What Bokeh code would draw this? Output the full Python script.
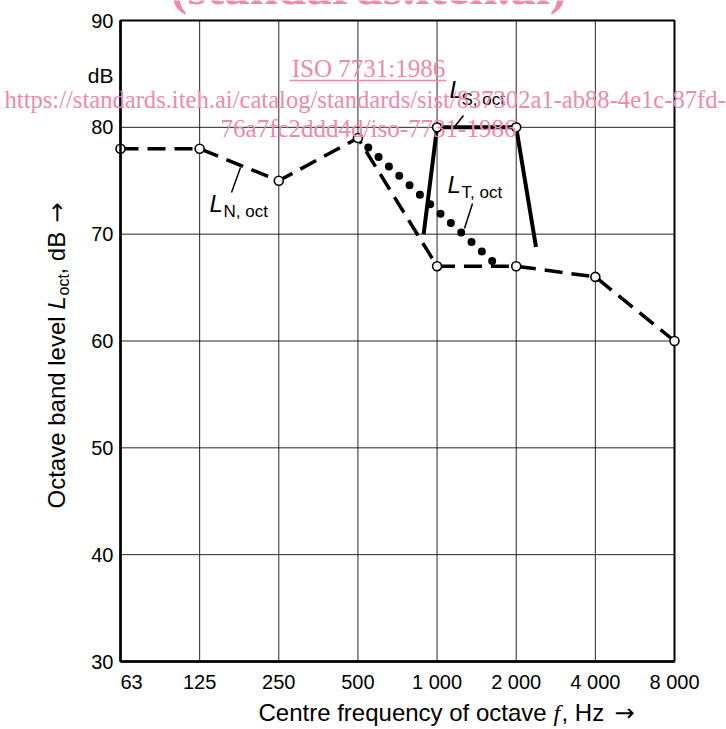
import math
from bokeh.plotting import figure
from bokeh.models import Range1d, FixedTicker, Label
from bokeh.embed import file_html
from bokeh.resources import INLINE

# ---------------- data ----------------
bands = ["63", "125", "250", "500", "1 000", "2 000", "4 000", "8 000"]
band_pos = [0, 1, 2, 3, 4, 5, 6, 7]
ln_oct = [78, 78, 75, 79, 67, 67, 66, 60]          # L_N,oct (dashed)
ls_pos = [3.83, 4, 5, 5.25]                          # L_S,oct (solid)
ls_oct = [70, 80, 80, 68.8]
ls_marker_pos = [4, 5]
ls_marker_oct = [80, 80]
lt_pos = [3, 4.74]                                   # L_T,oct (dotted)
lt_oct = [79, 67.2]
y_ticks = [30, 40, 50, 60, 70, 80, 90]

# ---------------- layout (page pixels of the chart box) ----------------
W, H = 725, 728
FL, FT, FR, FB = 120, 20, 674, 661
def X(px):
    return band_pos[0] + (px - FL) / (FR - FL) * (band_pos[-1] - band_pos[0])
def Y(py):
    return y_ticks[-1] - (py - FT) / (FB - FT) * (y_ticks[-1] - y_ticks[0])

SANS = "Liberation Sans"
SERIF = "Liberation Serif"
ARROWF = "DejaVu Sans"
PINK = "#ee8aa8"
K = 0.37   # baseline correction (fraction of font size)

p = figure(frame_width=W, frame_height=H, min_border=0, title=None,
           x_range=Range1d(X(0), X(W)), y_range=Range1d(Y(H), Y(0)),
           output_backend="svg", toolbar_location=None,
           background_fill_color="white", border_fill_color="white")
p.outline_line_color = None
p.grid.visible = False

# axes drawn at the chart box edges
xa, ya = p.xaxis[0], p.yaxis[0]
xa.fixed_location = y_ticks[0]
ya.fixed_location = band_pos[0]
xa.bounds = (band_pos[0], band_pos[-1])
ya.bounds = (y_ticks[0], y_ticks[-1])
xa.ticker = FixedTicker(ticks=band_pos)
ya.ticker = FixedTicker(ticks=y_ticks)
overrides = {pos: lab for pos, lab in zip(band_pos, bands)}
overrides[0] = "\u00a0" * 4 + bands[0]
xa.major_label_overrides = overrides
for ax in (xa, ya):
    ax.major_tick_line_color = None
    ax.minor_tick_line_color = None
    ax.major_tick_out = 0
    ax.major_tick_in = 0
    ax.axis_line_color = "black"
    ax.axis_line_width = 2.5
    ax.major_label_text_font = SANS
    ax.major_label_text_font_size = "20px"
    ax.major_label_text_color = "black"
xa.major_label_standoff = 9
ya.major_label_standoff = 7

# grid lines of the chart box (from the tick arrays)
n_x, n_y = len(band_pos), len(y_ticks)
p.segment(x0=band_pos, y0=[y_ticks[0]] * n_x, x1=band_pos, y1=[y_ticks[-1]] * n_x,
          line_color="black", line_alpha=0.85, line_width=1)
p.segment(x0=[band_pos[0]] * n_y, y0=y_ticks, x1=[band_pos[-1]] * n_y, y1=y_ticks,
          line_color="black", line_alpha=0.85, line_width=1)
p.quad(left=[band_pos[0]], right=[band_pos[-1]], bottom=[y_ticks[0]], top=[y_ticks[-1]],
       fill_color=None, line_color="black", line_width=2)

# ---------------- series ----------------
p.line(band_pos, ln_oct, line_color="black", line_width=3.5, line_dash="18 9")
p.line(ls_pos, ls_oct, line_color="black", line_width=4)
p.line(lt_pos, lt_oct, line_color="black", line_width=8, line_dash="0 14", line_cap="round")
p.scatter(band_pos, ln_oct, marker="circle", size=9, fill_color="white",
          line_color="black", line_width=1.6)
p.scatter(ls_marker_pos, ls_marker_oct, marker="circle", size=9, fill_color="white",
          line_color="black", line_width=1.6)

# leader lines for the curve labels
leaders = [((240, 167), (231, 192)), ((463, 115), (455, 125)), ((472, 203), (464, 228))]
p.segment(x0=[X(a[0]) for a, b in leaders], y0=[Y(a[1]) for a, b in leaders],
          x1=[X(b[0]) for a, b in leaders], y1=[Y(b[1]) for a, b in leaders],
          line_color="black", line_width=1.5)


def lab(px, py, text, size, font=SANS, style="normal", align="left", rotate=False,
        color="black"):
    if rotate:
        sx, sy, ang = px - K * size, H - py, math.pi / 2
    else:
        sx, sy, ang = px, H - (py - K * size), 0.0
    p.add_layout(Label(x=sx, y=sy, x_units="screen", y_units="screen",
                       text=text, text_font=font,
                       text_font_size=f"{size}px", text_font_style=style,
                       text_align=align, text_baseline="alphabetic", angle=ang,
                       text_color=color))

# curve labels
for (lx, ly, sx, sy, sub) in [(209, 212, 223, 217, "N, oct"),
                              (449, 98, 461, 105, "S, oct"),
                              (447, 193, 461, 198, "T, oct")]:
    lab(lx, ly, "L", 24, style="italic")
    lab(sx, sy, sub, 17)

# unit label
lab(113, 83, "dB", 21, align="right")

# y-axis title (rotated pieces)
lab(65, 508, "Octave band level", 24, rotate=True)
lab(65, 309, "L", 24, style="italic", rotate=True)
lab(69, 295, "oct", 16, rotate=True)
lab(65, 274, ", dB", 24, rotate=True)
lab(65, 222, "\u2192", 24, font=ARROWF, rotate=True)

# x-axis title
lab(258, 721, "Centre frequency of octave", 24)
lab(553, 721, "f", 24, font=SERIF, style="italic")
lab(561, 721, ", Hz", 24)
lab(614, 721, "\u2192", 24, font=ARROWF)

# watermark
lab(368, 5, "(standards.iteh.ai)", 51, font=SERIF, style="bold", align="center", color=PINK)
lab(368, 77, "ISO 7731:1986", 25, font=SERIF, align="center", color=PINK)
p.segment(x0=[X(289)], y0=[Y(80)], x1=[X(446)], y1=[Y(80)], line_color=PINK, line_width=1.5)
lab(4, 108, "https://standards.iteh.ai/catalog/standards/sist/837302a1-ab88-4e1c-87fd-",
    24.6, font=SERIF, color=PINK)
lab(368, 137, "76a7fc2ddd4d/iso-7731-1986", 25, font=SERIF, align="center", color=PINK)

open("out.html", "w").write(file_html(p, INLINE))
